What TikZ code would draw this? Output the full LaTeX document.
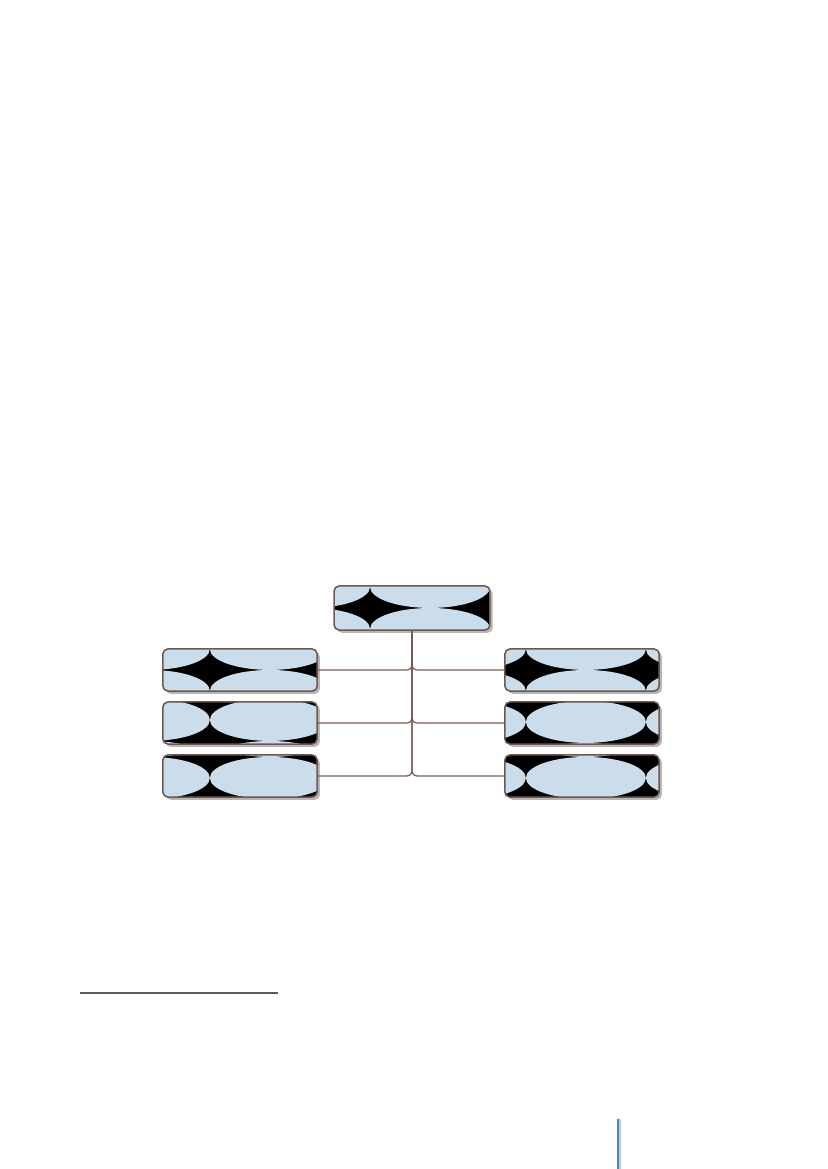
\documentclass[tikz,border=0pt]{standalone}
\usetikzlibrary{shadows}
\definecolor{boxblue}{RGB}{203,220,235}
\definecolor{boxline}{RGB}{107,88,84}
\definecolor{linkbrown}{RGB}{120,92,88}
\definecolor{barblue}{RGB}{79,129,189}
\definecolor{barlight}{RGB}{184,204,228}
\newcommand{\starx}{0}
\newcommand{\stary}{0}
\tikzset{
  starx/.store in=\starx, stary/.store in=\stary,
  orgbox/.style={draw=boxline, line width=1.1pt, rounded corners=1.3mm,
    minimum width=39.2mm, minimum height=10.7mm, inner sep=0pt, fill=black,
    drop shadow={shadow xshift=0.7mm, shadow yshift=-0.7mm, fill=boxline, opacity=0.45},
    path picture={
      \foreach \i in {-1,0,1} \foreach \j in {-1,0,1}
        \fill[boxblue] ([xshift={(\starx+60+120*\i)*0.254mm}, yshift={-(\stary+21+42*\j)*0.254mm}]path picture bounding box.north west)
          ellipse [x radius=15.24mm, y radius=5.33mm];
    }},
  link/.style={draw=linkbrown, line width=0.9pt, rounded corners=1.2mm}
}
\begin{document}
\begin{tikzpicture}[x=0.254mm, y=-0.254mm]
  \useasboundingbox (0,0) rectangle (827,1169);
  \node[orgbox, starx=36, stary=22, minimum width=39.6mm, minimum height=11.2mm] (head) at (412,608) {};
  \node[orgbox, starx=47, stary=21] (left1) at (240,670) {};
  \node[orgbox, starx=47, stary=-3] (left2) at (240,723) {};
  \node[orgbox, starx=47, stary=2] (left3) at (240,776) {};
  \node[orgbox, starx=21, stary=21] (right1) at (582,670) {};
  \node[orgbox, starx=21, stary=-1] (right2) at (582,723) {};
  \node[orgbox, starx=21, stary=2] (right3) at (582,776) {};
  \foreach \n in {left1,left2,left3}
    \draw[link] (head.south) |- (\n.east);
  \foreach \n in {right1,right2,right3}
    \draw[link] (head.south) |- (\n.west);
  \draw[gray!70!black, line width=1pt] (80,993) -- (278,993);
  \fill[barblue] (617,1119) rectangle (619,1169);
  \fill[barlight] (619,1119) rectangle (621,1169);
\end{tikzpicture}
\end{document}
